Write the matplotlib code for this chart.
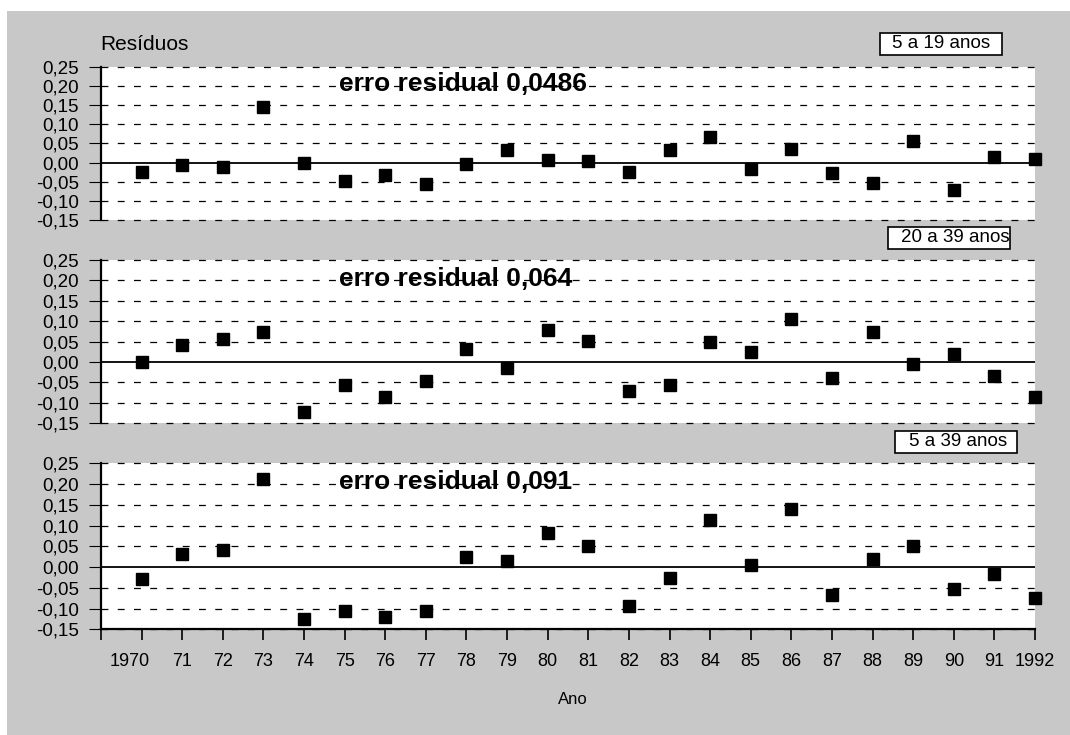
#!/usr/bin/env python3
# -*- coding: utf8 -*-

# Residuos do ajuste por faixa etaria, 1970-1992.

import matplotlib
matplotlib.use('Agg')
import matplotlib.pyplot as plt
from matplotlib.patches import Rectangle
from matplotlib.transforms import ScaledTranslation

plt.rcParams['font.family'] = ['Liberation Sans', 'DejaVu Sans']

years = list(range(1970, 1993))
year_labels = ['1970'] + [str(y)[2:] for y in range(1971, 1992)] + ['1992']

ytick_values = [-0.15, -0.10, -0.05, 0.00, 0.05, 0.10, 0.15, 0.20, 0.25]
ytick_labels = ['-0,15', '-0,10', '-0,05', '0,00', '0,05', '0,10', '0,15',
                '0,20', '0,25']

residuals_5_19 = [-0.024, -0.007, -0.013, 0.146, -0.002, -0.048, -0.033,
                  -0.057, -0.004, 0.032, 0.006, 0.003, -0.024, 0.032, 0.066,
                  -0.017, 0.035, -0.028, -0.054, 0.057, -0.072, 0.015, 0.010]
residuals_20_39 = [0.000, 0.042, 0.057, 0.073, -0.123, -0.056, -0.085,
                   -0.047, 0.033, -0.015, 0.078, 0.052, -0.072, -0.056, 0.050,
                   0.025, 0.106, -0.038, 0.074, -0.005, 0.020, -0.034, -0.085]
residuals_5_39 = [-0.029, 0.031, 0.041, 0.212, -0.125, -0.106, -0.120,
                  -0.106, 0.025, 0.014, 0.081, 0.051, -0.093, -0.026, 0.113,
                  0.006, 0.139, -0.067, 0.019, 0.051, -0.053, -0.017, -0.074]

group_names = ['5 a 19 anos', '20 a 39 anos', '5 a 39 anos']
residual_errors = ['0,0486', '0,064', '0,091']

W, H = 1070, 735


def px_box(left, top, right, bottom):
  return [left / W, 1 - bottom / H, (right - left) / W, (bottom - top) / H]


def panel(fig, rect, values, error_text, bottom_axis):
  ax = fig.add_axes(rect)
  ax.set_facecolor('white')
  ax.set_xlim(1969, 1992)
  ax.set_ylim(-0.15, 0.25)

  for v in ytick_values:
    if v == 0:
      continue
    ax.axhline(v, color='black', linewidth=0.9, linestyle=(0, (5.5, 7.5)),
               zorder=1, clip_on=False)
  ax.axhline(0, color='black', linewidth=1.3, zorder=2)

  ax.plot(years, values, linestyle='none', marker='s', markersize=8.5,
          color='black', zorder=3, clip_on=False)

  ax.text(1974.85, 0.187, f'erro residual {error_text}', fontsize=19,
          fontweight='bold', va='baseline', ha='left', zorder=4)

  ax.spines['top'].set_visible(False)
  ax.spines['right'].set_visible(False)
  ax.spines['left'].set_linewidth(1.6)
  ax.set_yticks(ytick_values)
  ax.set_yticklabels(ytick_labels)
  ax.tick_params(axis='y', length=9, width=0.8, pad=7, labelsize=13.5)

  if bottom_axis:
    ax.spines['bottom'].set_linewidth(1.6)
    ax.set_xticks(list(range(1969, 1993)), minor=True)
    ax.set_xticks(years)
    ax.set_xticklabels(year_labels)
    ax.tick_params(axis='x', which='both', direction='out', length=8,
                   width=1.2, pad=9, labelsize=13)
    ax.tick_params(axis='x', which='minor', labelbottom=False)
    # the first label sits a little to the left of its tick
    first = ax.get_xticklabels()[0]
    first.set_transform(first.get_transform() +
                        ScaledTranslation(-0.12, 0, fig.dpi_scale_trans))
  else:
    ax.spines['bottom'].set_visible(False)
    ax.set_xticks([])
  return ax


def group_box(fig, left, top, right, bottom, text_left, label):
  fig.patches.append(Rectangle((left / W, 1 - bottom / H),
                               (right - left) / W, (bottom - top) / H,
                               transform=fig.transFigure, facecolor='white',
                               edgecolor='black', linewidth=1.2, zorder=5))
  fig.text(text_left / W, 1 - (top + bottom) / 2 / H, label, fontsize=13.5,
           ha='left', va='center', zorder=6)


fig = plt.figure(figsize=(W / 100, H / 100), dpi=100)
fig.patch.set_facecolor('white')
fig.patches.append(Rectangle((7 / W, 0), 1 - 7 / W, 1 - 11 / H,
                             transform=fig.transFigure, facecolor='#c8c8c8',
                             edgecolor='none', zorder=-10))

panel(fig, px_box(101, 66.7, 1035, 220), residuals_5_19, residual_errors[0],
      False)
panel(fig, px_box(101, 260, 1035, 423.3), residuals_20_39,
      residual_errors[1], False)
panel(fig, px_box(101, 463.3, 1035, 629.3), residuals_5_39,
      residual_errors[2], True)

group_box(fig, 880, 33, 1002, 55, 892, group_names[0])
group_box(fig, 888, 227, 1010, 249, 901, group_names[1])
group_box(fig, 895, 431, 1017, 453, 909, group_names[2])

fig.text(100 / W, 1 - 45 / H, 'Resíduos', fontsize=15, ha='left',
         va='center')
fig.text(573 / W, 1 - 700 / H, 'Ano', fontsize=12, ha='center', va='center')

fig.savefig('out.png', dpi=100, facecolor=fig.get_facecolor())
